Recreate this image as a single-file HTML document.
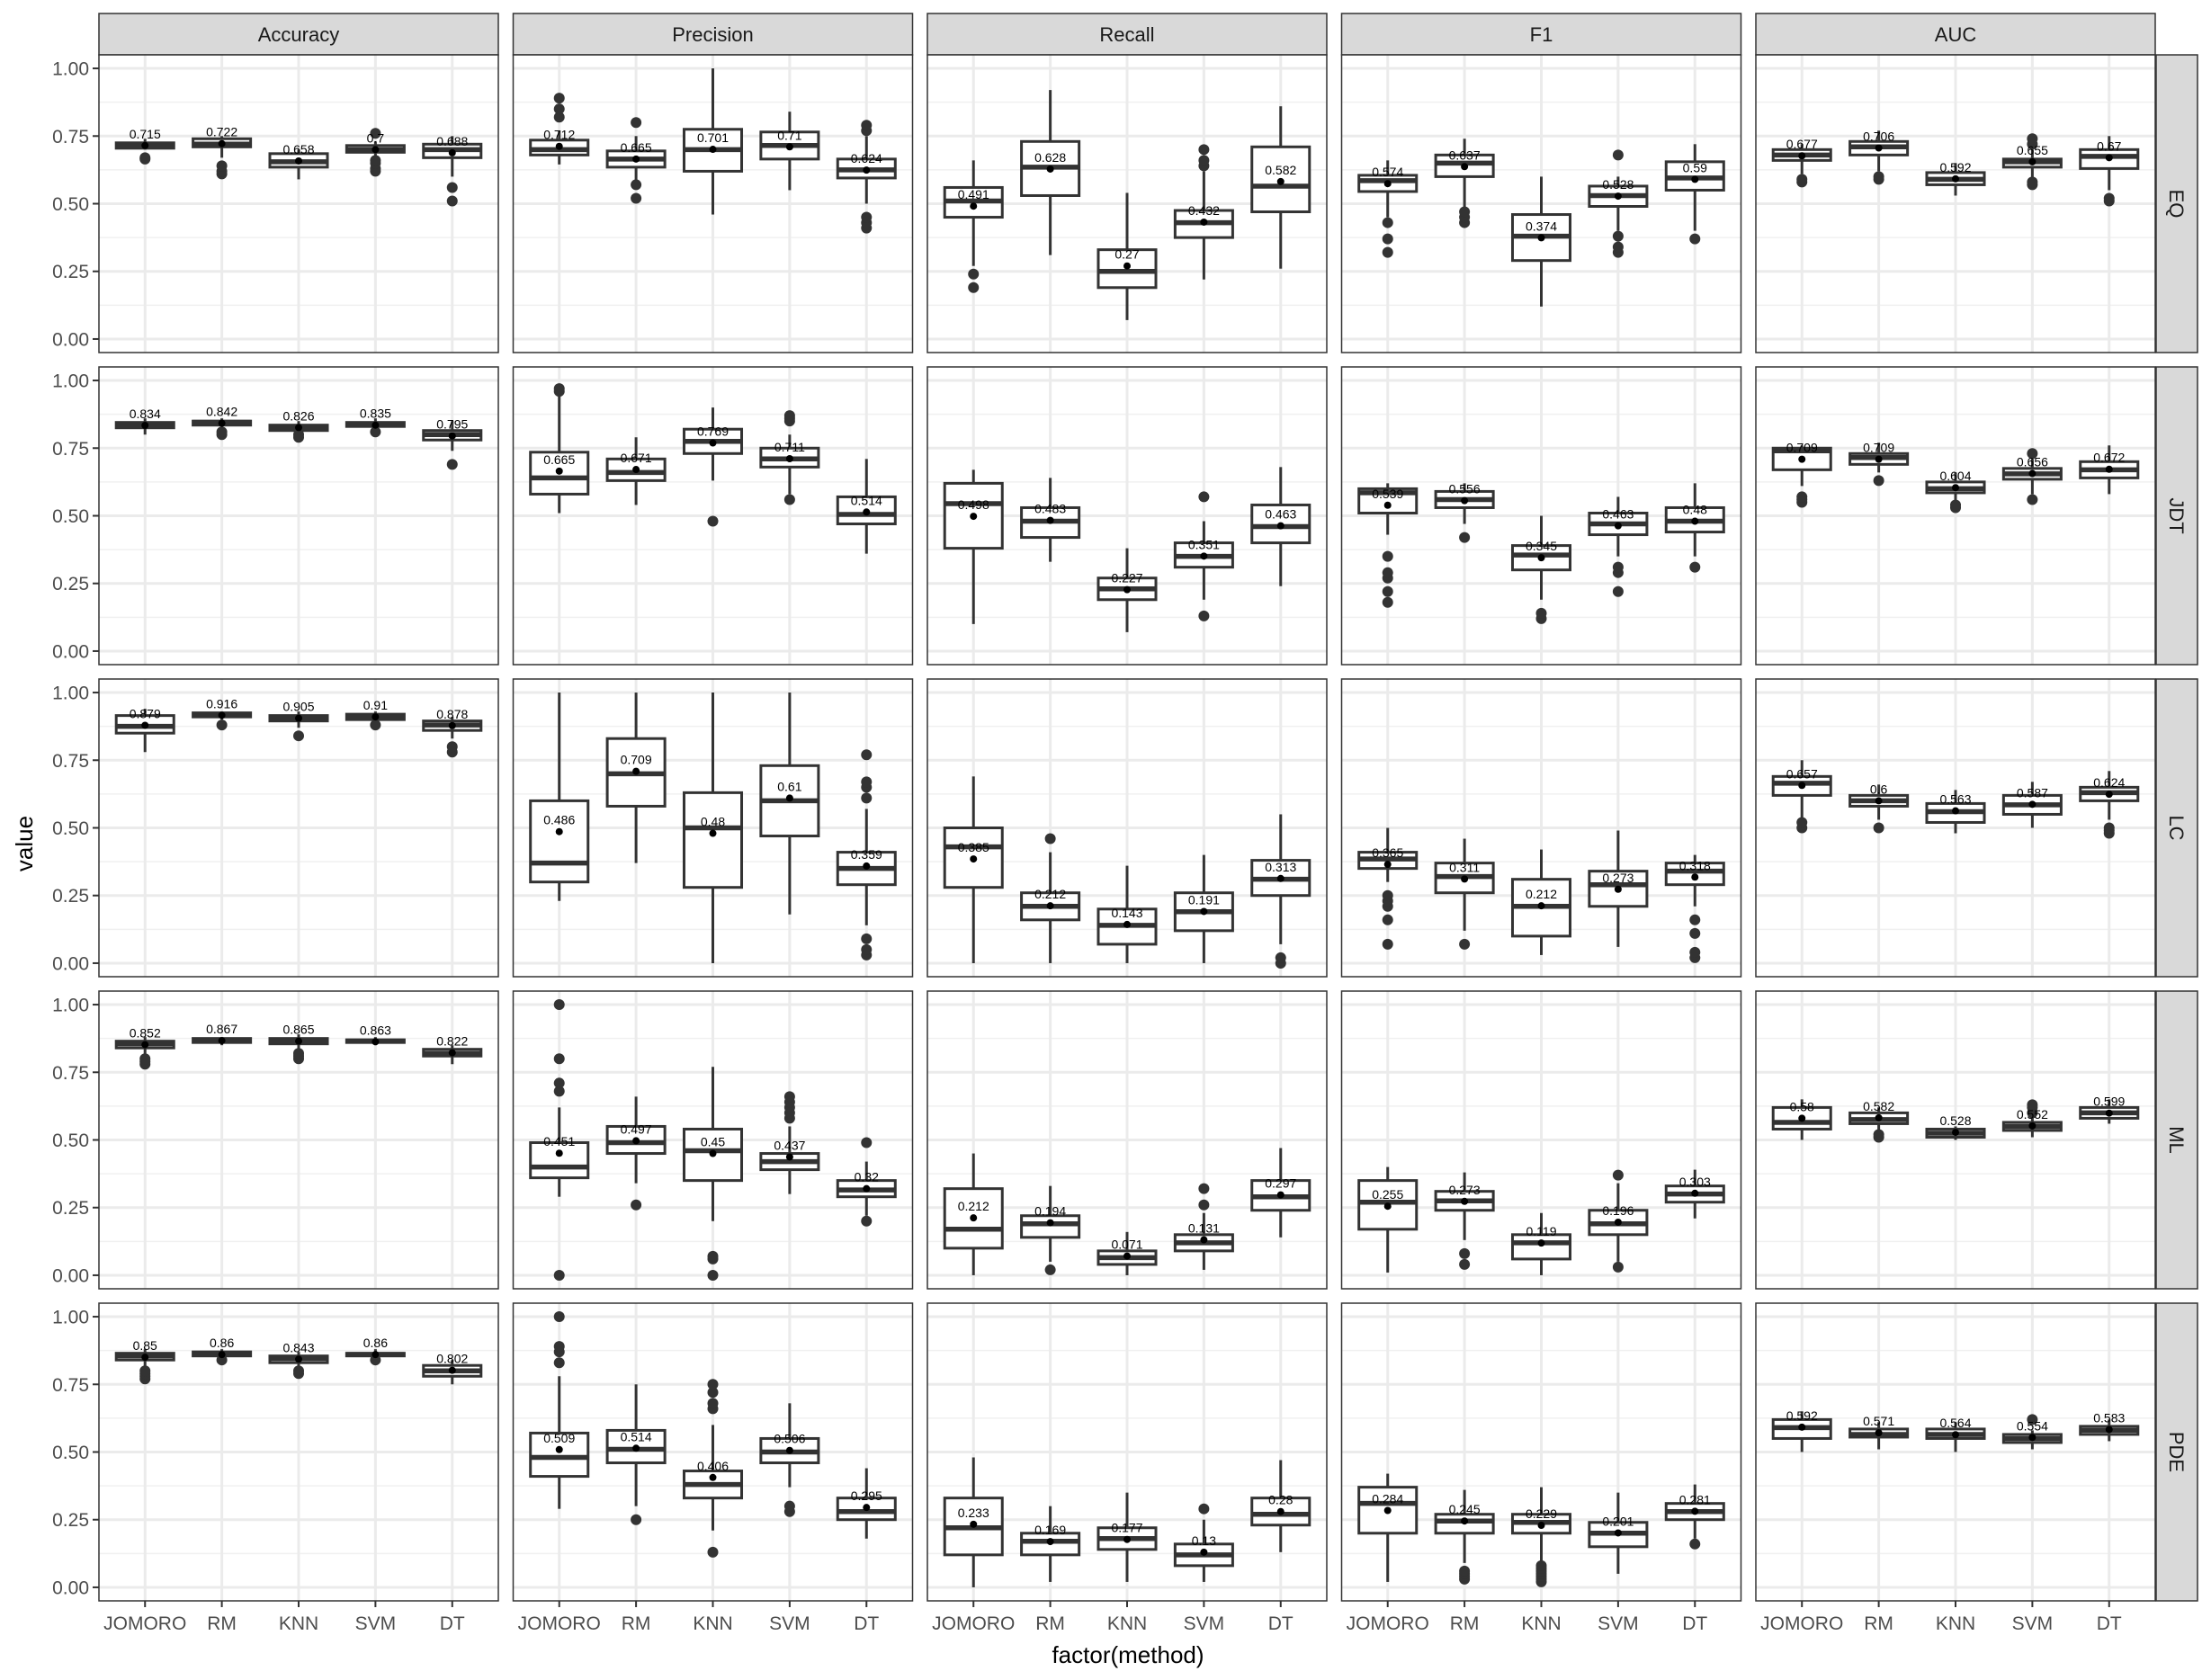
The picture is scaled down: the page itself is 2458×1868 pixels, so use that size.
<!DOCTYPE html>
<html><head><meta charset="utf-8"><style>
html,body{margin:0;padding:0;background:#fff;}
svg{display:block;font-family:"Liberation Sans",Arial,sans-serif;}
</style></head><body>
<svg id="chart" width="2458" height="1868" viewBox="0 0 2458 1868" xmlns="http://www.w3.org/2000/svg">
<text x="0" y="0" transform="translate(36,938) rotate(-90)" text-anchor="middle" font-size="26" fill="#000">value</text>
<text x="1254" y="1849" text-anchor="middle" font-size="26" fill="#000">factor(method)</text>
</svg>
<script>
const metrics = ["Accuracy","Precision","Recall","F1","AUC"];
const datasets = ["EQ","JDT","LC","ML","PDE"];
const methods = ["JOMORO","RM","KNN","SVM","DT"];
const yTicks = [0,0.25,0.5,0.75,1];
const yTickLabels = ["0.00","0.25","0.50","0.75","1.00"];
// box stats [whiskerLow, q1, median, q3, whiskerHigh] per metric per method
const eqStats = [
 [[.70,.705,.715,.725,.74],[.67,.71,.72,.74,.75],[.59,.635,.655,.685,.70],[.67,.69,.70,.715,.73],[.60,.67,.70,.72,.75]],
 [[.645,.68,.70,.735,.77],[.58,.635,.665,.695,.75],[.46,.62,.70,.775,1.0],[.55,.665,.715,.765,.84],[.50,.595,.625,.665,.75]],
 [[.27,.45,.51,.56,.66],[.31,.53,.635,.73,.92],[.07,.19,.25,.33,.54],[.22,.375,.43,.475,.62],[.26,.47,.565,.71,.86]],
 [[.45,.545,.585,.605,.66],[.48,.60,.65,.68,.74],[.12,.29,.38,.46,.60],[.40,.49,.53,.565,.60],[.40,.55,.595,.655,.72]],
 [[.61,.66,.68,.70,.72],[.62,.68,.71,.73,.77],[.53,.57,.59,.615,.65],[.59,.635,.655,.665,.70],[.55,.63,.675,.70,.75]]];
const jdtStats = [
 [[.80,.825,.835,.845,.86],[.83,.835,.845,.85,.86],[.80,.815,.825,.835,.85],[.82,.83,.835,.845,.86],[.74,.78,.80,.815,.85]],
 [[.51,.58,.64,.735,.96],[.54,.63,.66,.71,.79],[.63,.73,.775,.82,.90],[.58,.68,.71,.75,.80],[.36,.47,.505,.57,.71]],
 [[.10,.38,.545,.62,.67],[.33,.42,.48,.53,.64],[.07,.19,.23,.27,.38],[.19,.31,.35,.40,.48],[.24,.40,.46,.54,.68]],
 [[.43,.51,.585,.60,.62],[.47,.53,.56,.59,.62],[.19,.30,.355,.39,.50],[.35,.43,.47,.51,.57],[.35,.44,.48,.53,.62]],
 [[.61,.67,.74,.75,.76],[.66,.69,.715,.73,.77],[.55,.585,.60,.625,.66],[.58,.635,.655,.675,.71],[.58,.64,.67,.70,.76]]];
const lcStats = [
 [[.78,.85,.875,.915,.94],[.90,.91,.915,.925,.93],[.87,.895,.905,.915,.93],[.89,.90,.91,.92,.93],[.83,.86,.88,.895,.91]],
 [[.23,.30,.37,.60,1.0],[.37,.58,.70,.83,1.0],[0,.28,.50,.63,1.0],[.18,.47,.60,.73,1.0],[.14,.29,.35,.41,.57]],
 [[0,.28,.43,.50,.69],[0,.16,.21,.26,.41],[0,.07,.14,.20,.36],[0,.12,.19,.26,.40],[.07,.25,.31,.38,.55]],
 [[.30,.35,.385,.41,.50],[.12,.26,.32,.37,.46],[.03,.10,.21,.31,.42],[.06,.21,.29,.34,.49],[.21,.29,.34,.37,.40]],
 [[.53,.62,.665,.69,.75],[.53,.58,.60,.62,.66],[.48,.52,.56,.59,.64],[.50,.55,.585,.62,.67],[.53,.60,.63,.65,.71]]];
const mlStats = [
 [[.81,.84,.855,.865,.88],[.85,.86,.865,.875,.88],[.83,.855,.865,.875,.89],[.85,.86,.865,.87,.88],[.78,.81,.82,.835,.85]],
 [[.29,.36,.40,.49,.62],[.34,.45,.49,.55,.66],[.20,.35,.46,.54,.77],[.30,.39,.42,.45,.55],[.22,.29,.315,.35,.42]],
 [[0,.10,.17,.32,.45],[.05,.14,.19,.22,.33],[0,.04,.065,.09,.16],[.02,.09,.12,.15,.23],[.14,.24,.29,.35,.47]],
 [[.01,.17,.27,.35,.40],[.13,.24,.275,.31,.38],[0,.06,.12,.15,.23],[.05,.15,.19,.24,.34],[.21,.27,.30,.33,.39]],
 [[.50,.54,.565,.62,.65],[.53,.56,.575,.60,.62],[.50,.51,.525,.54,.55],[.51,.535,.55,.565,.59],[.56,.58,.60,.62,.65]]];
const pdeStats = [
 [[.81,.84,.855,.865,.88],[.845,.855,.86,.87,.88],[.81,.83,.845,.855,.87],[.845,.855,.86,.865,.88],[.75,.78,.80,.82,.84]],
 [[.29,.41,.48,.57,.78],[.30,.46,.51,.58,.75],[.21,.33,.38,.43,.60],[.37,.46,.50,.55,.68],[.18,.25,.28,.33,.44]],
 [[0,.12,.22,.33,.48],[.02,.12,.17,.20,.30],[.02,.14,.18,.22,.35],[.02,.08,.12,.16,.25],[.13,.23,.27,.33,.47]],
 [[.02,.20,.31,.37,.42],[.09,.20,.245,.27,.36],[.09,.20,.24,.27,.37],[.05,.15,.20,.24,.35],[.18,.25,.28,.31,.38]],
 [[.50,.55,.59,.62,.65],[.51,.555,.565,.585,.61],[.50,.55,.565,.585,.61],[.51,.535,.55,.565,.58],[.54,.565,.58,.595,.62]]];
const eqMeans = [[.715,.722,.658,.7,.688],[.712,.665,.701,.71,.624],[.491,.628,.27,.432,.582],[.574,.637,.374,.528,.59],[.677,.706,.592,.655,.67]];
const jdtMeans = [[.834,.842,.826,.835,.795],[.665,.671,.769,.711,.514],[.498,.483,.227,.351,.463],[.539,.556,.345,.463,.48],[.709,.709,.604,.656,.672]];
const lcMeans = [[.879,.916,.905,.91,.878],[.486,.709,.48,.61,.359],[.385,.212,.143,.191,.313],[.365,.311,.212,.273,.318],[.657,.6,.563,.587,.624]];
const mlMeans = [[.852,.867,.865,.863,.822],[.451,.497,.45,.437,.32],[.212,.194,.071,.131,.297],[.255,.273,.119,.196,.303],[.58,.582,.528,.552,.599]];
const pdeMeans = [[.85,.86,.843,.86,.802],[.509,.514,.406,.506,.295],[.233,.169,.177,.13,.28],[.284,.245,.229,.201,.281],[.592,.571,.564,.554,.583]];
const eqOut = [[[.665,.67],[.61,.62,.64],[],[.62,.63,.65,.66,.76],[.51,.56]],
 [[.82,.85,.89],[.52,.57,.80],[],[],[.41,.43,.45,.77,.79]],
 [[.19,.24],[],[],[.64,.66,.70],[]],
 [[.32,.37,.43],[.43,.45,.47],[],[.32,.34,.38,.68],[.37]],
 [[.58,.59],[.59,.60],[],[.57,.58,.72,.74],[.51,.52]]];
const jdtOut = [[[],[.80,.81],[.79,.80],[.81],[.69]],
 [[.96,.97],[],[.48],[.56,.85,.86,.87],[]],
 [[],[],[],[.13,.57],[]],
 [[.18,.22,.27,.29,.35],[.42],[.12,.14],[.22,.29,.31],[.31]],
 [[.55,.56,.57],[.63],[.53,.54],[.56,.73],[]]];
const lcOut = [[[],[.88],[.84],[.88],[.78,.80]],
 [[],[],[],[],[.03,.05,.09,.61,.65,.67,.77]],
 [[],[.46],[],[],[0,.02]],
 [[.07,.16,.21,.23,.25],[.07],[],[],[.02,.04,.11,.16]],
 [[.50,.52],[.50],[],[],[.48,.49,.50]]];
const mlOut = [[[.78,.79,.80],[],[.80,.81,.82],[],[]],
 [[0,.68,.71,.80,1.0],[.26],[0,.06,.07],[.58,.60,.62,.64,.66],[.20,.49]],
 [[],[.02],[],[.26,.32],[]],
 [[],[.04,.08],[],[.03,.37],[]],
 [[],[.51,.52],[],[.60,.62,.63],[]]];
const pdeOut = [[[.77,.78,.79,.80],[.84],[.79,.80],[.84],[]],
 [[.83,.87,.89,1.0],[.25],[.13,.66,.68,.72,.75],[.28,.30],[]],
 [[],[],[],[.29],[]],
 [[],[.03,.04,.05,.06],[.02,.03,.04,.05,.06,.07,.08],[],[.16]],
 [[],[],[],[.62],[]]];
const allStats = [eqStats,jdtStats,lcStats,mlStats,pdeStats];
const allMeans = [eqMeans,jdtMeans,lcMeans,mlMeans,pdeMeans];
const allOut = [eqOut,jdtOut,lcOut,mlOut,pdeOut];

const NS="http://www.w3.org/2000/svg";
const svg=document.getElementById('chart');
const colX0=110, colStep=460.5, pw=444, rowY0=61, rowStep=347, ph=331;
function yS(r,v){return rowY0+r*rowStep+ph*(1.05-v)/1.1;}
function xS(c,i){return colX0+c*colStep+(i+0.6)*pw/5.2;}
function mk(tag,attrs,parent){const e=document.createElementNS(NS,tag);for(const k in attrs)e.setAttribute(k,attrs[k]);(parent||svg).appendChild(e);return e;}

for(let c=0;c<5;c++){
  const st=mk('rect',{x:colX0+c*colStep,y:15,width:pw,height:46,fill:'#d9d9d9',stroke:'#333','stroke-width':1.5});
  
  
  const t=mk('text',{x:colX0+c*colStep+pw/2,y:46,'text-anchor':'middle','font-size':22,fill:'#1a1a1a'});
  t.textContent=metrics[c];
  
  
}
for(let r=0;r<5;r++){
  const top=rowY0+r*rowStep;
  const st=mk('rect',{x:2397,y:top,width:46,height:ph,fill:'#d9d9d9',stroke:'#333','stroke-width':1.5});
  
  
  const t=mk('text',{x:0,y:0,transform:`translate(2412,${top+ph/2}) rotate(90)`,'text-anchor':'middle','font-size':22,fill:'#1a1a1a'});
  t.textContent=datasets[r];
  
  
  yTicks.forEach((v,k)=>{
    const y=yS(r,v);
    mk('line',{x1:103,x2:110,y1:y,y2:y,stroke:'#333','stroke-width':2});
    const tl=mk('text',{x:99,y:y+7.5,'text-anchor':'end','font-size':21,fill:'#4d4d4d'});
    tl.textContent=yTickLabels[k];
    
    
  });
  for(let c=0;c<5;c++){
    const left=colX0+c*colStep;
    const g=mk('g',{});
    
    
    mk('rect',{x:left,y:top,width:pw,height:ph,fill:'#fff'},g);
    for(let v=0.125;v<1.1;v+=0.25){const y=yS(r,v);mk('line',{x1:left,x2:left+pw,y1:y,y2:y,stroke:'#f0f0f0','stroke-width':1.5},g);}
    yTicks.forEach(v=>{const y=yS(r,v);mk('line',{x1:left,x2:left+pw,y1:y,y2:y,stroke:'#ebebeb','stroke-width':3},g);});
    for(let i=0;i<5;i++){const x=xS(c,i);mk('line',{x1:x,x2:x,y1:top,y2:top+ph,stroke:'#ebebeb','stroke-width':3},g);}
    const stats=allStats[r][c], means=allMeans[r][c], outs=allOut[r][c];
    const bw=0.75*pw/5.2;
    for(let i=0;i<5;i++){
      const s=stats[i], x=xS(c,i);
      const b=mk('g',{},g);
      
      
      mk('line',{x1:x,x2:x,y1:yS(r,s[0]),y2:yS(r,s[1]),stroke:'#333','stroke-width':3},b);
      mk('line',{x1:x,x2:x,y1:yS(r,s[3]),y2:yS(r,s[4]),stroke:'#333','stroke-width':3},b);
      mk('rect',{x:x-bw/2,y:yS(r,s[3]),width:bw,height:Math.max(0,yS(r,s[1])-yS(r,s[3])),fill:'#fff',stroke:'#333','stroke-width':3},b);
      mk('line',{x1:x-bw/2,x2:x+bw/2,y1:yS(r,s[2]),y2:yS(r,s[2]),stroke:'#333','stroke-width':5.5},b);
      outs[i].forEach(o=>{
        const p=mk('circle',{cx:x,cy:yS(r,o),r:6,fill:'#333'},b);
        
        
      });
      const m=mk('circle',{cx:x,cy:yS(r,means[i]),r:4,fill:'#000'},b);
      
      
      const ml=mk('text',{x:x,y:yS(r,means[i])-8,'text-anchor':'middle','font-size':14,fill:'#000'},b);
      ml.textContent=String(means[i]);
      
      
    }
    mk('rect',{x:left,y:top,width:pw,height:ph,fill:'none',stroke:'#333','stroke-width':1.5},g);
  }
}
const lastTop=rowY0+4*rowStep+ph;
for(let c=0;c<5;c++){
  for(let i=0;i<5;i++){
    const x=xS(c,i);
    mk('line',{x1:x,x2:x,y1:lastTop,y2:lastTop+7,stroke:'#333','stroke-width':2});
    const t=mk('text',{x:x,y:lastTop+32,'text-anchor':'middle','font-size':21,fill:'#4d4d4d'});
    t.textContent=methods[i];
    
    
  }
}
</script>
</body></html>
